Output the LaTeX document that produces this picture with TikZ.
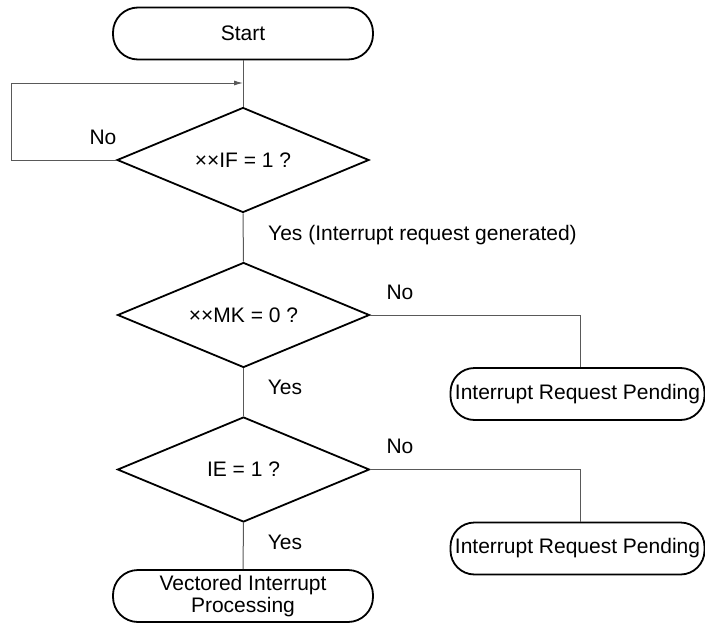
\documentclass[tikz,border=0pt]{standalone}
\usepackage{fontspec}
\setmainfont{Liberation Sans}
\usetikzlibrary{shapes.geometric,arrows.meta}
\begin{document}
\begin{tikzpicture}[x=1pt,y=-1pt,
  every node/.style={font=\fontsize{21}{22}\selectfont},
  term/.style={draw=black,line width=1.8pt,rounded corners=25pt,minimum width=260pt,minimum height=52pt,inner sep=0pt,align=center},
  pend/.style={draw=black,line width=1.8pt,rounded corners=24pt,minimum width=254pt,minimum height=52pt,inner sep=0pt},
  dec/.style={draw=black,line width=1.8pt,diamond,minimum width=252pt,minimum height=105pt,inner sep=0pt,aspect=2.4},
  conn/.style={draw=black!65,line width=1pt},
  lbl/.style={inner sep=0pt}]
\useasboundingbox (0,0) rectangle (705,624);
\node[term] (start) at (243,33.5) {Start};
\node[dec] (d1) at (243,160) {××IF = 1 ?};
\node[dec] (d2) at (243.5,315) {××MK = 0 ?};
\node[dec] (d3) at (243.5,469.5) {IE = 1 ?};
\node[pend] (p1) at (577.5,394) {Interrupt Request Pending};
\node[pend] (p2) at (577.5,548.5) {Interrupt Request Pending};
\node[term] (vip) at (243,596) {Vectored Interrupt\\Processing};
\coordinate (join) at (243,83);
\coordinate (loopA) at (11,160);
\coordinate (loopB) at (11,83);
\coordinate (c1) at (580,315);
\coordinate (c2) at (580,469.5);
% connectors
\draw[conn] (start.south) -- (d1.north);
\draw[conn,-{Latex[length=9pt,width=5pt]}] (d1.west) -- (loopA) -- (loopB) -- (join);
\draw[conn] (d1.south) -- (d2.north);
\draw[conn] (d2.south) -- (d3.north);
\draw[conn] (d3.south) -- (vip.north);
\draw[conn] (d2.east) -- (c1) -- (c1 |- p1.north);
\draw[conn] (d3.east) -- (c2) -- (c2 |- p2.north);
% labels
\node[lbl] (no1) at (103,137) {No};
\node[lbl,anchor=west] (yes1) at (268,235) {Yes (Interrupt request generated)};
\node[lbl] (no2) at (400,292) {No};
\node[lbl] (yes2) at (285,387) {Yes};
\node[lbl] (no3) at (400,446) {No};
\node[lbl] (yes3) at (285,542) {Yes};
\end{tikzpicture}
\end{document}
